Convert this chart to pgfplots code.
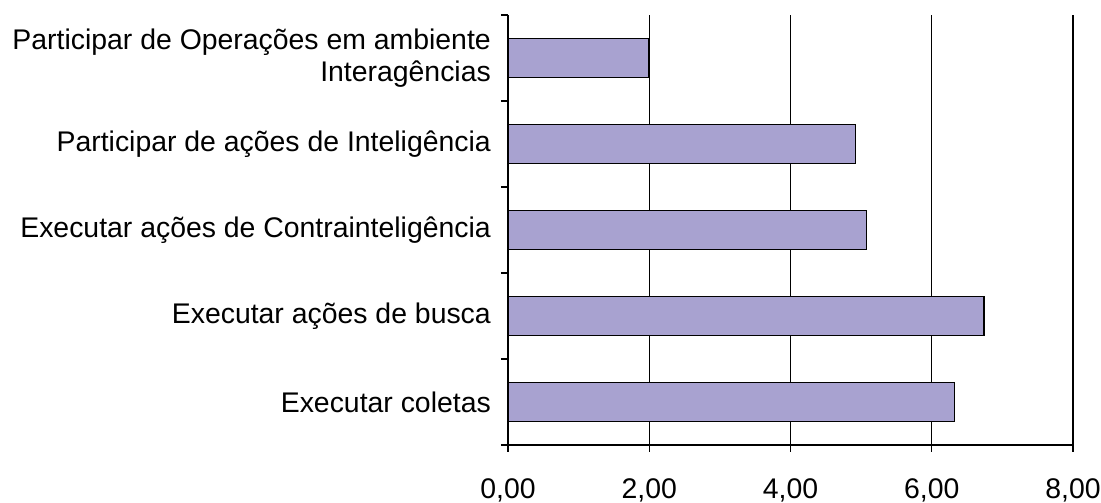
\documentclass[border=0pt]{standalone}
\usepackage{fontspec}
\setmainfont{Liberation Sans}
\usepackage{pgfplots}
\pgfplotsset{compat=1.18}
\definecolor{barfill}{RGB}{168,162,208}
\begin{document}
\begin{tikzpicture}
\begin{axis}[
  scale only axis,
  width=565pt, height=430pt,
  at={(0,0)}, anchor=south west,
  xbar, bar width=0.45,
  xmin=0, xmax=8, ymin=0, ymax=5,
  axis lines=left,
  axis line style={-, line width=1.2pt},
  xtick={0,2,4,6,8},
  xticklabels={{0,00},{2,00},{4,00},{6,00},{8,00}},
  xmajorgrids,
  grid style={black, line width=1.2pt},
  tick align=outside,
  major tick length=7pt,
  tick style={black, line width=1.2pt},
  xticklabel style={font=\fontsize{28.4}{31}\selectfont, inner sep=0pt, anchor=north, yshift=-26pt},
  ytick={0.5,1.5,2.5,3.5,4.5},
  yticklabels={{Executar coletas},{Executar ações de busca},{Executar ações de Contrainteligência},{Participar de ações de Inteligência},{Participar de Operações em ambiente\\Interagências}},
  yticklabel style={font=\fontsize{28.4}{31.5}\selectfont, align=right, inner sep=0pt, anchor=east, xshift=-10pt},
  minor ytick={0,1,2,3,4,5},
  every major y tick/.style={draw=none},
  every minor y tick/.style={black, line width=1.2pt},
  minor tick length=7pt,
  clip=false,
]
\addplot[fill=barfill, draw=black, line width=1.2pt] coordinates {
  (6.32,0.5) (6.74,1.5) (5.08,2.5) (4.92,3.5) (1.99,4.5)
};
\end{axis}
\pgfresetboundingbox
\path[use as bounding box] (-508pt,-58pt) rectangle (593pt,445pt);
\end{tikzpicture}
\end{document}
